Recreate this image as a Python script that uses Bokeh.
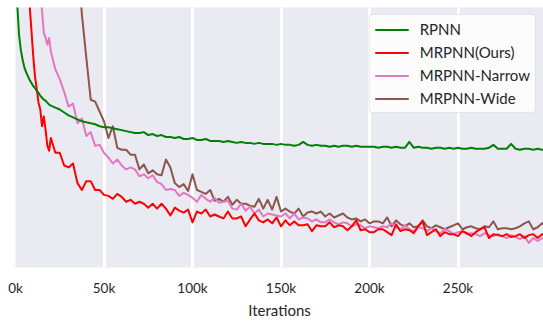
from bokeh.plotting import figure
from bokeh.models import Range1d, FixedTicker, Legend, LegendItem
from bokeh.embed import file_html
from bokeh.resources import INLINE

# x: training iterations (1k steps early, 2.5k steps afterwards)
iterations = list(range(1000, 20001, 1000)) + list(range(22500, 300001, 2500))

# y: loss (arbitrary units, no y labels in the original)
rpnn = [268, 237, 222, 212, 204, 199, 195, 191, 188, 185,
        183, 180, 178, 175, 173, 171, 170, 168, 166, 165,
        163, 161, 158, 155, 153, 151, 149, 148, 147, 146,
        144, 143, 143, 142, 141, 140, 139, 138, 137, 137,
        138, 135, 136, 134, 135, 133, 133, 132, 133, 131,
        131, 132, 130, 130, 131, 129, 129, 129, 128, 129,
        128, 127, 128, 127, 127, 126, 127, 126, 126, 126,
        125, 126, 125, 125, 124, 125, 128, 125, 124, 125,
        124, 124, 123, 124, 123, 124, 124, 123, 124, 123,
        123, 123, 123, 122, 123, 123, 122, 123, 122, 122,
        128, 122, 123, 122, 122, 121, 122, 122, 121, 122,
        121, 122, 121, 121, 122, 121, 121, 121, 122, 125,
        121, 121, 121, 126, 121, 120, 121, 121, 120, 121,
        120, 120]

mrpnn_ours = [500, 450, 400, 360, 330, 300, 280, 267, 242, 216,
              195, 182, 168, 161, 144, 154, 140, 124, 119, 132,
              117, 117, 104, 102, 106, 86, 79, 88, 88, 79,
              79, 74, 73, 70, 75, 72, 67, 69, 65, 67,
              65, 61, 65, 60, 65, 60, 53, 61, 58, 56,
              59, 46, 57, 55, 59, 52, 54, 52, 50, 57,
              50, 50, 52, 42, 49, 55, 48, 46, 49, 45,
              51, 42, 48, 43, 47, 43, 43, 44, 37, 43,
              42, 42, 46, 41, 43, 42, 38, 42, 48, 38,
              39, 36, 36, 39, 39, 36, 33, 44, 37, 39,
              38, 35, 42, 47, 33, 36, 39, 32, 36, 34,
              34, 32, 37, 35, 32, 36, 39, 41, 30, 34,
              33, 32, 34, 31, 32, 34, 30, 33, 34, 30,
              34, 32]

mrpnn_narrow = [605, 580, 555, 530, 505, 480, 455, 430, 405, 380,
                355, 330, 306, 283, 261, 239, 234, 227, 234, 220,
                202, 192, 179, 164, 167, 147, 152, 134, 138, 124,
                125, 117, 112, 106, 110, 104, 100, 102, 100, 93,
                95, 91, 94, 87, 85, 79, 80, 79, 73, 76,
                74, 71, 67, 74, 70, 67, 71, 66, 67, 68,
                60, 59, 65, 58, 62, 55, 59, 52, 55, 54,
                53, 52, 55, 50, 55, 49, 51, 50, 47, 49,
                46, 46, 49, 46, 44, 46, 45, 42, 44, 43,
                40, 42, 41, 40, 42, 41, 45, 41, 39, 43,
                39, 37, 41, 40, 37, 40, 37, 35, 39, 37,
                34, 36, 37, 34, 35, 34, 32, 35, 33, 32,
                34, 32, 30, 33, 31, 29, 32, 25, 30, 27,
                30, 28]

mrpnn_wide = [900, 880, 860, 840, 820, 800, 780, 760, 740, 720,
              700, 680, 660, 640, 620, 610, 600, 590, 580, 570,
              560, 520, 470, 420, 370, 320, 258, 214, 171, 169,
              159, 149, 132, 144, 122, 120, 120, 115, 115, 100,
              105, 96, 99, 95, 94, 110, 102, 86, 82, 85,
              78, 95, 79, 77, 75, 79, 68, 70, 67, 72,
              64, 69, 65, 65, 63, 62, 70, 60, 69, 59,
              72, 57, 60, 57, 55, 60, 52, 56, 57, 55,
              57, 52, 55, 51, 53, 55, 51, 49, 50, 47,
              49, 45, 47, 47, 45, 51, 42, 48, 44, 42,
              45, 41, 42, 48, 42, 40, 43, 41, 39, 41,
              43, 45, 39, 41, 42, 40, 39, 42, 41, 47,
              39, 40, 40, 39, 40, 42, 45, 47, 39, 41,
              45, 42]

series_names = ["RPNN", "MRPNN(Ours)", "MRPNN-Narrow", "MRPNN-Wide"]
series_colors = ["#008000", "#ff0000", "#e377c2", "#8c564b"]

tick_values = [0, 50000, 100000, 150000, 200000, 250000]
tick_labels = ["0k", "50k", "100k", "150k", "200k", "250k"]

FONT = "Lato"
TEXT = "#262626"

p = figure(width=543, height=321,
           x_range=Range1d(0, 298300), y_range=Range1d(0, 265),
           output_backend="svg", toolbar_location=None,
           y_axis_location=None,
           min_border_left=15, min_border_right=0,
           min_border_top=7, min_border_bottom=49)
p.background_fill_color = "#EAEAF2"
p.border_fill_color = "white"
p.outline_line_color = None

p.ygrid.visible = False
p.xgrid.grid_line_color = "white"
p.xgrid.grid_line_width = 3

ax = p.xaxis[0]
ax.ticker = FixedTicker(ticks=tick_values)
ax.major_label_overrides = {v: l for v, l in zip(tick_values, tick_labels)}
ax.axis_line_color = None
ax.major_tick_line_color = None
ax.minor_tick_line_color = None
ax.major_label_text_font = FONT
ax.major_label_text_font_size = "13.5px"
ax.major_label_text_color = TEXT
ax.major_label_standoff = 6
ax.axis_label = "Iterations"
ax.axis_label_text_font = FONT
ax.axis_label_text_font_size = "15px"
ax.axis_label_text_font_style = "normal"
ax.axis_label_text_color = TEXT
ax.axis_label_standoff = 2

all_series = [rpnn, mrpnn_ours, mrpnn_narrow, mrpnn_wide]
renderers = {}
for idx in [3, 2, 1, 0]:
    renderers[idx] = p.line(iterations, all_series[idx], line_color=series_colors[idx],
                            line_width=2, line_join="round")

items = [LegendItem(label=series_names[i], renderers=[renderers[i]]) for i in range(4)]
legend = Legend(items=items, location="top_right", margin=7, padding=5,
                spacing=5, glyph_width=34, glyph_height=17, label_height=17,
                label_standoff=11,
                label_text_font=FONT, label_text_font_size="15px",
                label_text_color=TEXT,
                border_line_color="#cccccc", border_line_width=1,
                background_fill_color="white", background_fill_alpha=0.85)
try:
    legend.border_radius = 4
except Exception:
    pass
p.add_layout(legend)

open("out.html", "w").write(file_html(p, INLINE))
